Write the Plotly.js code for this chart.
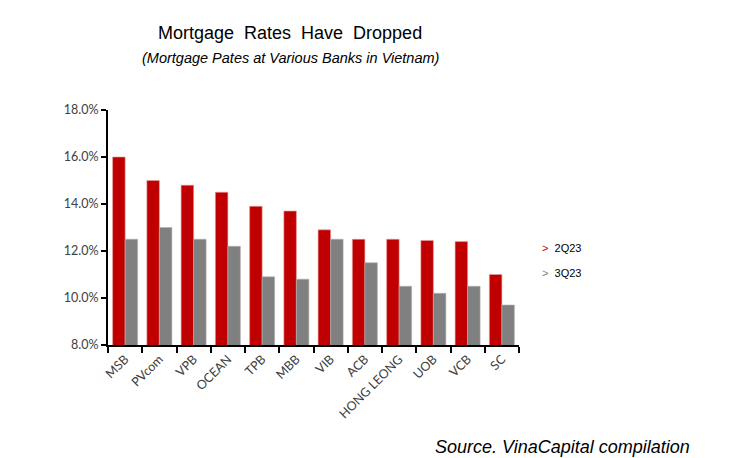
<!DOCTYPE html>
<html>
<head>
<meta charset="utf-8">
<script src="https://cdn.plot.ly/plotly-3.0.1.min.js"></script>
<style>
    html, body { margin: 0; padding: 0; background: #fff; }
    #chart { width: 756px; height: 458px; }
</style>
</head>
<body>
<div id="chart"></div>
<script>
'use strict';

const banks = ['MSB', 'PVcom', 'VPB', 'OCEAN', 'TPB', 'MBB', 'VIB', 'ACB', 'HONG LEONG', 'UOB', 'VCB', 'SC'];
const rates2Q23 = [16.0, 15.0, 14.8, 14.5, 13.9, 13.7, 12.9, 12.5, 12.5, 12.45, 12.4, 11.0];
const rates3Q23 = [12.5, 13.0, 12.5, 12.2, 10.9, 10.8, 12.5, 11.5, 10.5, 10.2, 10.5, 9.7];
const yTicks = [8, 10, 12, 14, 16, 18];
const yTickText = yTicks.map(v => v.toFixed(1) + '%');

const red = '#c00000';
const grey = '#808080';
const arial = '"Liberation Sans", Arial, sans-serif';

const data = [
    {
        type: 'bar',
        name: '2Q23',
        x: banks,
        y: rates2Q23,
        marker: { color: red, line: { color: '#e89a9a', width: 0.6 } },
        hoverinfo: 'x+y',
    },
    {
        type: 'bar',
        name: '3Q23',
        x: banks,
        y: rates3Q23,
        marker: { color: grey, line: { color: '#b0b0b0', width: 0.6 } },
        hoverinfo: 'x+y',
    },
];

const layout = {
    width: 756,
    height: 458,
    margin: { l: 108, r: 237, t: 110, b: 113 },
    paper_bgcolor: '#fff',
    plot_bgcolor: '#fff',
    showlegend: false,
    barmode: 'group',
    bargap: 0.27,
    bargroupgap: 0,
    font: { family: 'Lato, "Open Sans", sans-serif', color: '#404040' },
    xaxis: {
        type: 'category',
        showline: true,
        linecolor: '#000',
        linewidth: 2,
        ticks: 'outside',
        tickson: 'boundaries',
        ticklen: 6,
        tickwidth: 2,
        tickcolor: '#000',
        tickangle: -45,
        tickfont: { size: 12.5, color: '#404040' },
        showgrid: false,
        zeroline: false,
    },
    yaxis: {
        range: [8, 18],
        tickvals: yTicks,
        ticktext: yTickText,
        showline: true,
        linecolor: '#000',
        linewidth: 2,
        ticks: 'outside',
        ticklen: 5,
        tickwidth: 2,
        tickcolor: '#000',
        tickfont: { size: 12.5, color: '#404040' },
        showgrid: false,
        zeroline: false,
    },
    annotations: [
        {
            text: 'Mortgage  Rates  Have  Dropped',
            xref: 'paper', yref: 'paper',
            x: 0.443, y: 1.328,
            xanchor: 'center', yanchor: 'middle',
            showarrow: false,
            font: { family: arial, size: 18, color: '#000' },
        },
        {
            text: '<i>(Mortgage Pates at Various Banks in Vietnam)</i>',
            xref: 'paper', yref: 'paper',
            x: 0.443, y: 1.221,
            xanchor: 'center', yanchor: 'middle',
            showarrow: false,
            font: { family: arial, size: 14.5, color: '#000' },
        },
        {
            text: '<span style="color:' + red + '">&gt;</span>  2Q23',
            xref: 'paper', yref: 'paper',
            x: 1.052, y: 0.413,
            xanchor: 'left', yanchor: 'middle',
            showarrow: false,
            font: { family: arial, size: 11, color: '#000' },
        },
        {
            text: '<span style="color:' + grey + '">&gt;</span>  3Q23',
            xref: 'paper', yref: 'paper',
            x: 1.052, y: 0.306,
            xanchor: 'left', yanchor: 'middle',
            showarrow: false,
            font: { family: arial, size: 11, color: '#000' },
        },
        {
            text: '<i>Source. VinaCapital compilation</i>',
            xref: 'paper', yref: 'paper',
            x: 0.79, y: -0.434,
            xanchor: 'left', yanchor: 'middle',
            showarrow: false,
            font: { family: arial, size: 18, color: '#000' },
        },
    ],
};

Plotly.newPlot('chart', data, layout, { displayModeBar: false, staticPlot: true });
</script>
</body>
</html>
